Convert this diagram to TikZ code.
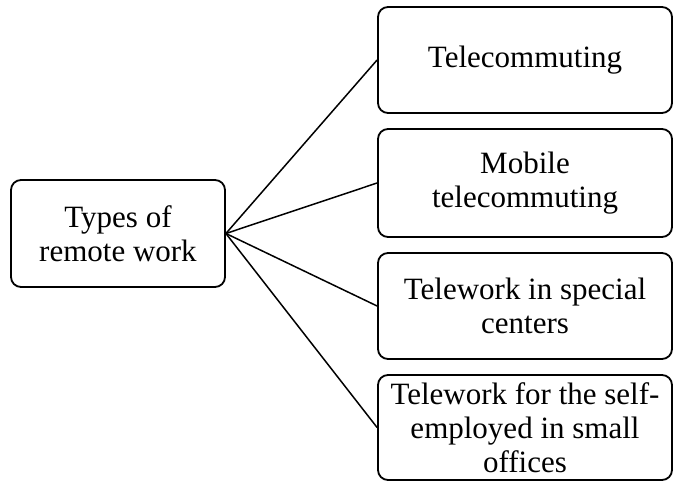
\documentclass[tikz,border=0pt]{standalone}
\usepackage{fontspec}
\setmainfont{Liberation Serif}
\begin{document}
\begin{tikzpicture}[x=1pt,y=1pt,
  box/.style={draw, line width=1.8pt, rounded corners=10pt, align=center, inner sep=0pt,
    font=\fontsize{31}{34}\selectfont},
  conn/.style={line width=1.5pt}]
\useasboundingbox (0,0) rectangle (674,482);
\node[box, minimum width=214pt, minimum height=107pt] (a) at (118,248.5) {Types of\\remote work};
\node[box, minimum width=294pt, minimum height=106pt] (b1) at (525,422) {Telecommuting};
\node[box, minimum width=294pt, minimum height=108pt] (b2) at (525,299) {Mobile\\telecommuting};
\node[box, minimum width=294pt, minimum height=106pt] (b3) at (525,176) {Telework in special\\centers};
\node[box, minimum width=294pt, minimum height=105pt] (b4) at (525,54.5) {Telework for the self-\\employed in small\\offices};
\foreach \b in {b1,b2,b3,b4} \draw[conn] (a.east) -- (\b.west);
\end{tikzpicture}
\end{document}
